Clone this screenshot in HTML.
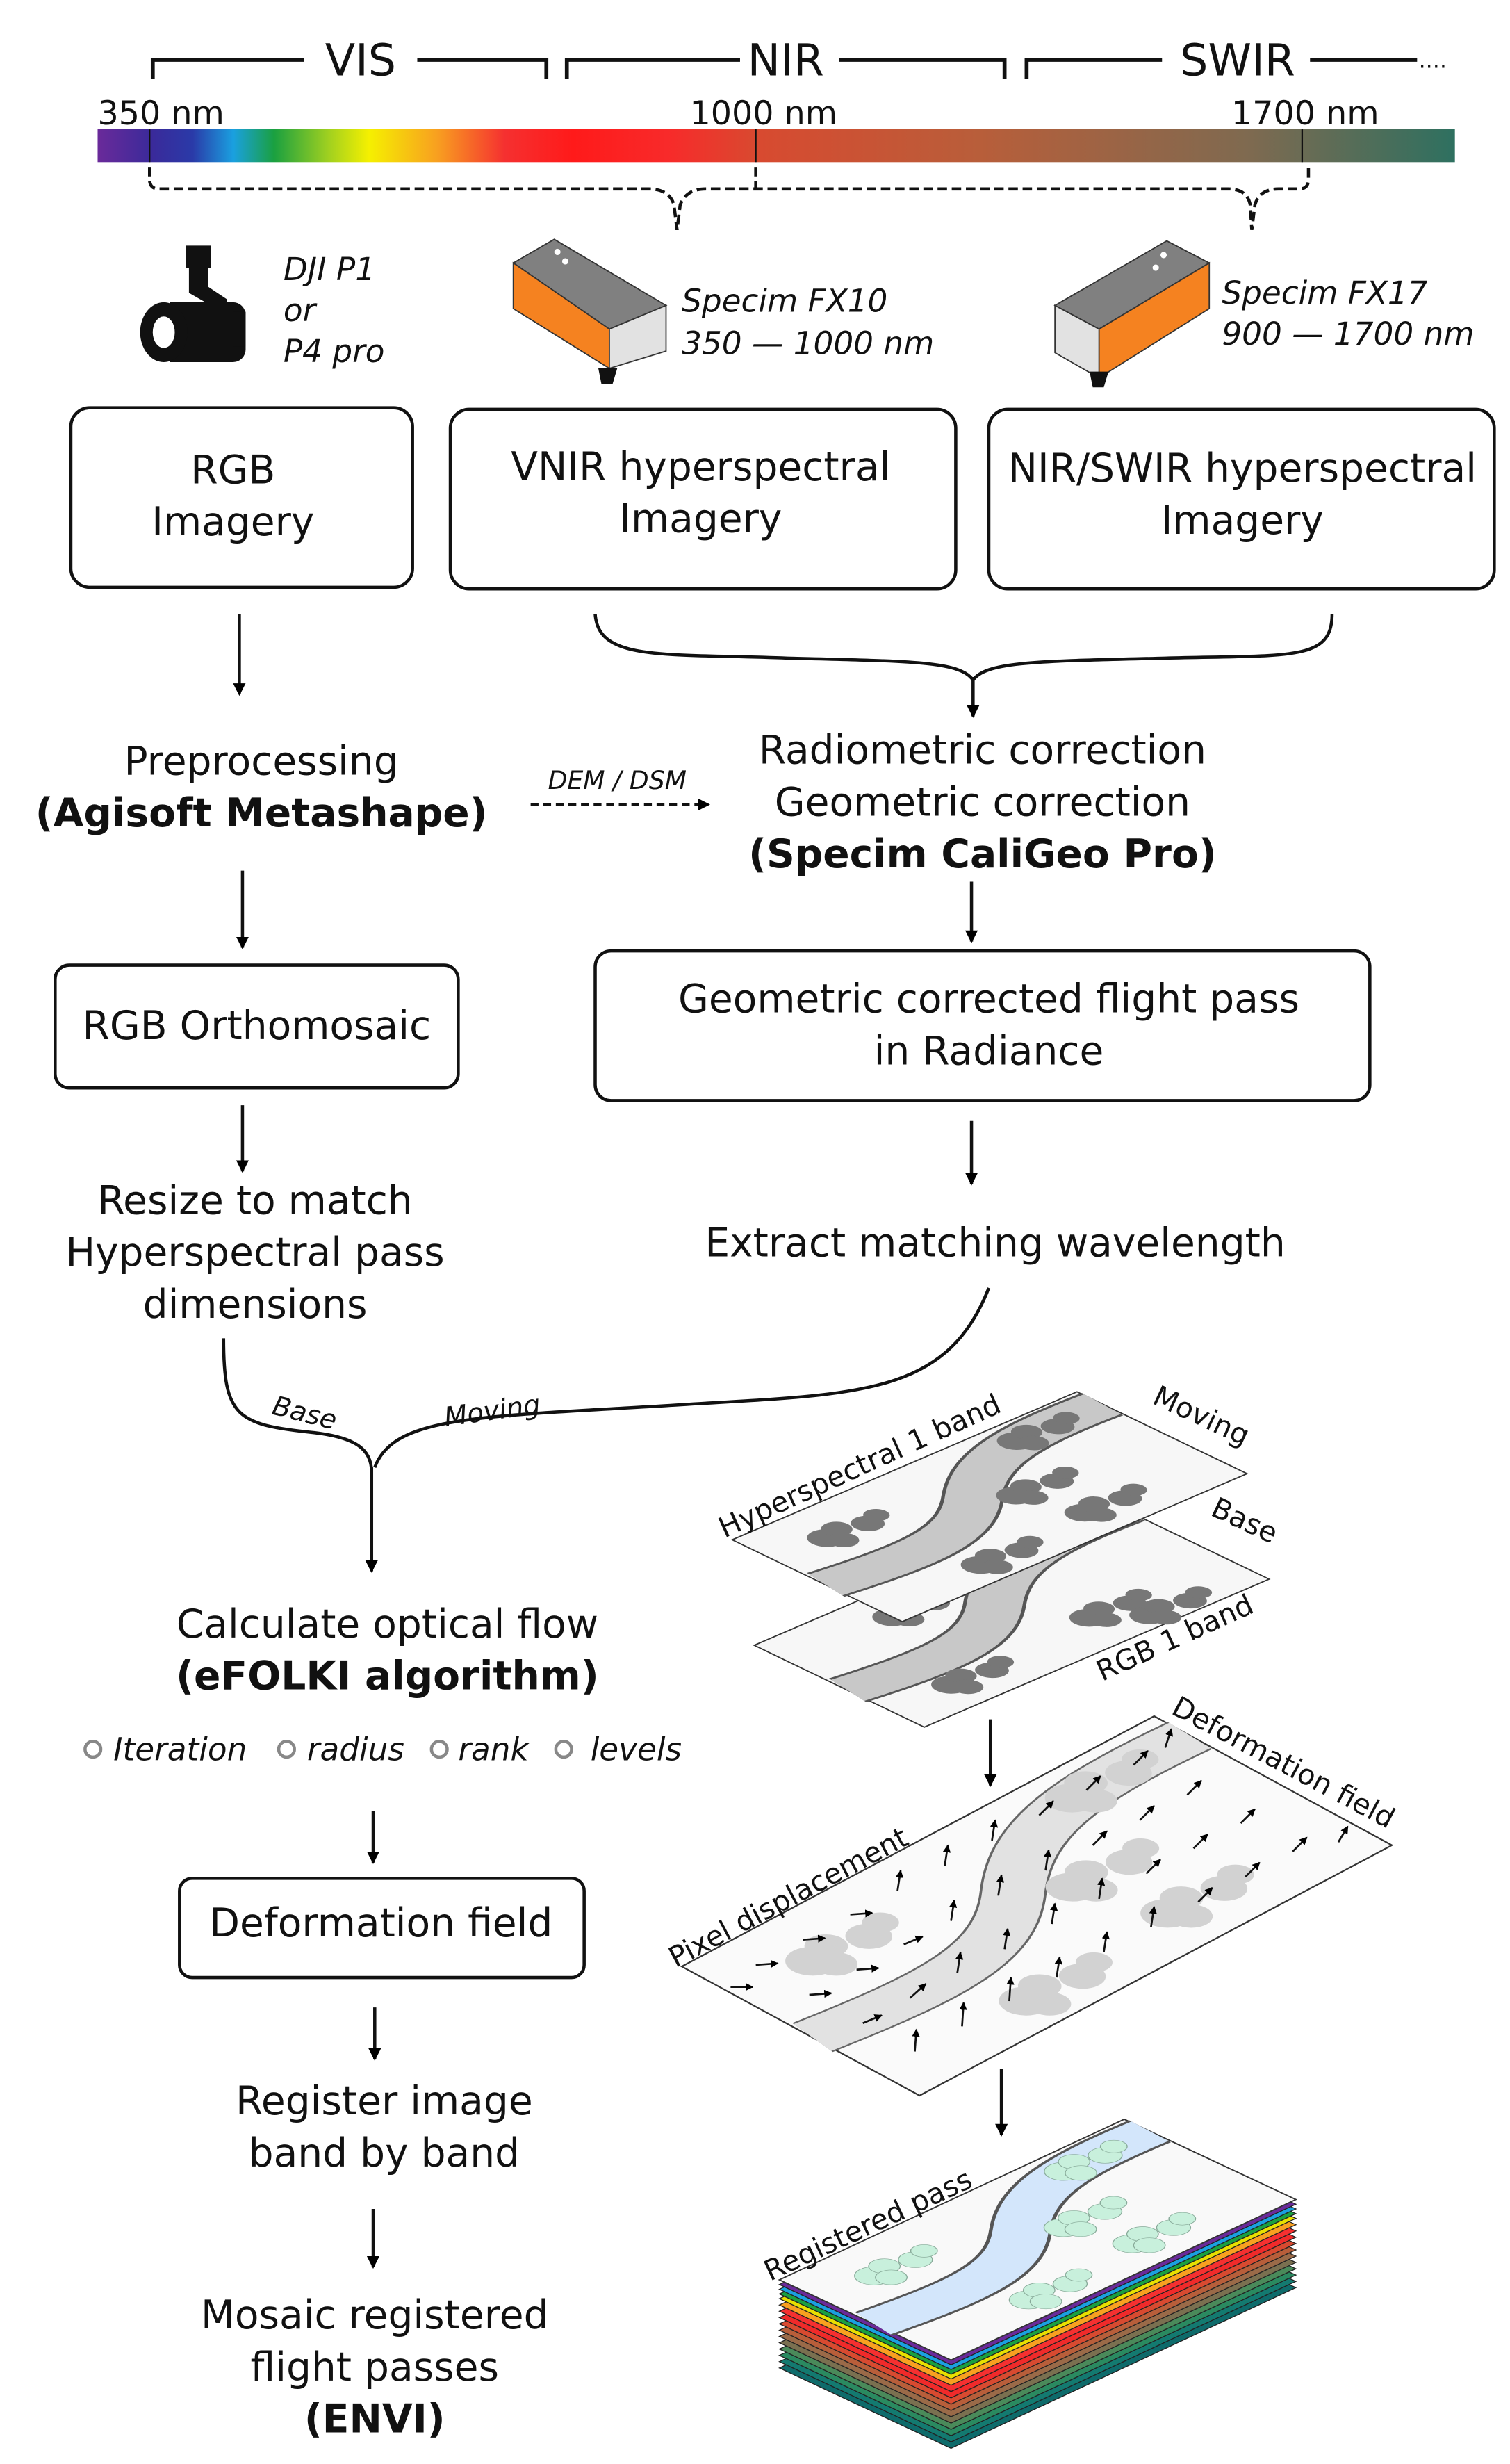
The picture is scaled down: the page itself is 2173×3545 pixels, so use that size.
<!DOCTYPE html>
<html><head><meta charset="utf-8"><style>
html,body{margin:0;padding:0;background:#fff;}
svg{display:block;}
text{font-family:"DejaVu Sans","Liberation Sans",sans-serif;fill:#111;}
.b{font-size:25px;text-anchor:middle;}
.bb{font-size:25px;text-anchor:middle;font-weight:bold;}
.it{font-size:20px;font-style:italic;}
.lbl{font-size:18px;}
</style></head><body>
<svg width="2173" height="3545" viewBox="0 0 959 1565" preserveAspectRatio="none" xmlns="http://www.w3.org/2000/svg">
<defs>
<linearGradient id="spec" x1="62" y1="0" x2="924" y2="0" gradientUnits="userSpaceOnUse">
<stop offset="0" stop-color="#6a2a9a"/><stop offset="0.04" stop-color="#3a2a9a"/><stop offset="0.07" stop-color="#2a3aa8"/>
<stop offset="0.1" stop-color="#1aa0e0"/><stop offset="0.13" stop-color="#1aa040"/><stop offset="0.17" stop-color="#a0d020"/>
<stop offset="0.2" stop-color="#f5f000"/><stop offset="0.25" stop-color="#f8a020"/><stop offset="0.3" stop-color="#f53030"/>
<stop offset="0.35" stop-color="#ff1a1a"/><stop offset="0.42" stop-color="#f82a2a"/><stop offset="0.487" stop-color="#d84a30"/>
<stop offset="0.65" stop-color="#b85e3a"/><stop offset="0.85" stop-color="#7e6a50"/><stop offset="1" stop-color="#2e7060"/>
</linearGradient>
<marker id="ah" markerWidth="8" markerHeight="8" refX="7" refY="4" orient="auto" markerUnits="userSpaceOnUse"><path d="M0,0 L8,4 L0,8 Z" fill="#000"/></marker>
<marker id="sh" markerWidth="5" markerHeight="5" refX="4.5" refY="2.5" orient="auto" markerUnits="userSpaceOnUse"><path d="M0,0 L5,2.5 L0,5 Z" fill="#000"/></marker>
<g id="trees1"><circle cx="0" cy="0" r="8"/><circle cx="9" cy="-3" r="6.5"/><circle cx="4" cy="6" r="6.5"/><circle cx="22" cy="2" r="7"/><circle cx="30" cy="-1" r="5.5"/></g>
<path id="riv" d="M0,55 C50,62 75,62 100,40 S150,12 200,15"/>
</defs>

<!-- top brackets -->
<g fill="none" stroke="#111" stroke-width="2.5">
<path d="M97,50 V38 H193 M265,38 H347 V50"/>
<path d="M360,50 V38 H470 M533,38 H638 V50"/>
<path d="M652,50 V38 H738 M832,38 H900"/>
</g>
<text x="229" y="48" style="font-size:28px;text-anchor:middle">VIS</text>
<text x="499" y="48" style="font-size:28px;text-anchor:middle">NIR</text>
<text x="786" y="48" style="font-size:28px;text-anchor:middle">SWIR</text>
<text x="901" y="43" style="font-size:14px">....</text>
<text x="62" y="79" style="font-size:21px">350 nm</text>
<text x="438" y="79" style="font-size:21px">1000 nm</text>
<text x="782" y="79" style="font-size:21px">1700 nm</text>
<rect x="62" y="82" width="862" height="21" fill="url(#spec)"/>
<g stroke="#111" stroke-width="1"><line x1="95" y1="82" x2="95" y2="103"/><line x1="480" y1="82" x2="480" y2="103"/><line x1="827" y1="82" x2="827" y2="103"/></g>
<g fill="none" stroke="#111" stroke-width="2" stroke-dasharray="6,3">
<path d="M95,106 V114 Q95,120 101,120 H412 Q425,120 428,130 L430,146 L432,130 Q436,120 448,120 H780 Q792,120 794,130 L795,146 L797,130 Q800,120 812,120 H825 Q831,120 831,114 V106"/>
<path d="M480,106 V120"/>
</g>

<!-- DJI camera -->
<g fill="#111">
<rect x="118" y="156" width="16" height="14"/>
<path d="M120,168 h12 v14 l12,8 v20 h-10 v-16 l-14,-8 z"/>
<path d="M108,192 h40 a8,8 0 0 1 8,8 v22 a8,8 0 0 1 -8,8 h-40 z"/>
<rect x="148" y="198" width="8" height="22"/>
<ellipse cx="104" cy="211" rx="15" ry="19"/>
</g>
<ellipse cx="104" cy="211" rx="7" ry="10" fill="#fff"/>
<text class="it" x="180" y="178">DJI P1</text>
<text class="it" x="180" y="204">or</text>
<text class="it" x="180" y="230">P4 pro</text>

<!-- FX10 -->
<g stroke="#333" stroke-width="0.8">
<polygon points="352,152 423,194 387,209 326,167" fill="#808080"/>
<polygon points="326,167 387,209 387,234 326,196" fill="#f58220"/>
<polygon points="387,209 423,194 423,223 387,234" fill="#e2e2e2"/>
</g>
<path d="M380,234 h12 l-3,10 h-7 z" fill="#111"/>
<circle cx="354" cy="160" r="2" fill="#fff"/><circle cx="359" cy="166" r="2" fill="#fff"/>
<text class="it" x="433" y="198">Specim FX10</text>
<text class="it" x="433" y="225">350 — 1000 nm</text>

<!-- FX17 -->
<g stroke="#333" stroke-width="0.8">
<polygon points="741,153 768,167 698,209 670,194" fill="#808080"/>
<polygon points="698,209 768,167 768,196 698,240" fill="#f58220"/>
<polygon points="670,194 698,209 698,240 670,224" fill="#e2e2e2"/>
</g>
<path d="M692,236 h12 l-3,10 h-7 z" fill="#111"/>
<circle cx="739" cy="162" r="2" fill="#fff"/><circle cx="734" cy="170" r="2" fill="#fff"/>
<text class="it" x="776" y="193">Specim FX17</text>
<text class="it" x="776" y="219">900 — 1700 nm</text>

<!-- boxes -->
<g fill="#fff" stroke="#111" stroke-width="2">
<rect x="45" y="259" width="217" height="114" rx="12"/>
<rect x="286" y="260" width="321" height="114" rx="12"/>
<rect x="628" y="260" width="321" height="114" rx="12"/>
<rect x="35" y="613" width="256" height="78" rx="9"/>
<rect x="378" y="604" width="492" height="95" rx="10"/>
<rect x="114" y="1193" width="257" height="63" rx="8"/>
</g>
<text class="b" x="148" y="307">RGB</text><text class="b" x="148" y="340">Imagery</text>
<text class="b" x="445" y="305">VNIR hyperspectral</text><text class="b" x="445" y="338">Imagery</text>
<text class="b" x="789" y="306">NIR/SWIR hyperspectral</text><text class="b" x="789" y="339">Imagery</text>

<!-- connectors -->
<g fill="none" stroke="#111" stroke-width="2">
<path d="M152,390 V441" marker-end="url(#ah)"/>
<path d="M378,390 C380,420 420,415 500,418 C580,420 610,420 618,432 C626,420 660,420 740,418 C820,416 846,420 846,390"/>
<path d="M618,430 V455" marker-end="url(#ah)"/>
<path d="M337,511 H450" stroke-dasharray="5,3" stroke-width="1.6" marker-end="url(#ah)"/>
<path d="M154,553 V602" marker-end="url(#ah)"/>
<path d="M617,560 V598" marker-end="url(#ah)"/>
<path d="M154,702 V744" marker-end="url(#ah)"/>
<path d="M617,712 V752" marker-end="url(#ah)"/>
<path d="M142,850 C142,900 150,905 200,910 C225,913 236,920 236,935"/>
<path d="M628,818 C600,890 540,885 420,893 C300,900 250,900 238,932"/>
<path d="M236,932 V998" marker-end="url(#ah)"/>
<path d="M237,1150 V1183" marker-end="url(#ah)"/>
<path d="M238,1275 V1308" marker-end="url(#ah)"/>
<path d="M237,1403 V1440" marker-end="url(#ah)"/>
<path d="M629,1092 V1134" marker-end="url(#ah)"/>
<path d="M636,1314 V1356" marker-end="url(#ah)"/>
</g>

<text class="b" x="166" y="492">Preprocessing</text>
<text class="bb" x="166" y="525">(Agisoft Metashape)</text>
<text x="392" y="501" style="font-size:16px;font-style:italic;text-anchor:middle">DEM / DSM</text>
<text class="b" x="624" y="485">Radiometric correction</text>
<text class="b" x="624" y="518">Geometric correction</text>
<text class="bb" x="624" y="551">(Specim CaliGeo Pro)</text>
<text class="b" x="163" y="660">RGB Orthomosaic</text>
<text class="b" x="628" y="643">Geometric corrected flight pass</text>
<text class="b" x="628" y="676">in Radiance</text>
<text class="b" x="162" y="771">Resize to match</text>
<text class="b" x="162" y="804">Hyperspectral pass</text>
<text class="b" x="162" y="837">dimensions</text>
<text class="b" x="632" y="798">Extract matching wavelength</text>
<text transform="translate(172,898) rotate(14)" style="font-size:17px;font-style:italic">Base</text>
<text transform="translate(283,906) rotate(-8)" style="font-size:17px;font-style:italic">Moving</text>
<text class="b" x="246" y="1040">Calculate optical flow</text>
<text class="bb" x="246" y="1073">(eFOLKI algorithm)</text>
<g fill="none" stroke="#888" stroke-width="2"><circle cx="59" cy="1111" r="5"/><circle cx="182" cy="1111" r="5"/><circle cx="279" cy="1111" r="5"/><circle cx="358" cy="1111" r="5"/></g>
<text class="it" x="72" y="1118">Iteration</text>
<text class="it" x="195" y="1118">radius</text>
<text class="it" x="291" y="1118">rank</text>
<text class="it" x="375" y="1118">levels</text>
<text class="b" x="242" y="1230">Deformation field</text>
<text class="b" x="244" y="1343">Register image</text>
<text class="b" x="244" y="1376">band by band</text>
<text class="b" x="238" y="1479">Mosaic registered</text>
<text class="b" x="238" y="1512">flight passes</text>
<text class="bb" x="238" y="1545">(ENVI)</text>

<!-- plane 2 (base) -->
<g transform="matrix(1.095,-0.47,1.08,0.52,479,1045)">
<polygon points="0,0 200,0 200,100 0,100" fill="#f7f7f7" stroke="#333" stroke-width="0.9"/>
<use href="#riv" fill="none" stroke="#555" stroke-width="26"/>
<use href="#riv" fill="none" stroke="#c8c8c8" stroke-width="23"/>
<g fill="#777"><use href="#trees1" x="35" y="80"/><use href="#trees1" x="120" y="75"/><use href="#trees1" x="140" y="90"/><use href="#trees1" x="60" y="20"/></g>
</g>
<!-- plane 1 (moving) -->
<g transform="matrix(1.095,-0.47,1.08,0.52,465,978)">
<polygon points="0,0 200,0 200,100 0,100" fill="#f7f7f7" stroke="#333" stroke-width="0.9"/>
<use href="#riv" fill="none" stroke="#555" stroke-width="26"/>
<use href="#riv" fill="none" stroke="#c8c8c8" stroke-width="23"/>
<g fill="#777"><use href="#trees1" x="30" y="25"/><use href="#trees1" x="60" y="85"/><use href="#trees1" x="125" y="80"/><use href="#trees1" x="150" y="15"/><use href="#trees1" x="115" y="50"/></g>
</g>
<text transform="translate(460,977) rotate(-24.5)" class="lbl">Hyperspectral 1 band</text>
<text transform="translate(731,891) rotate(25)" class="lbl">Moving</text>
<text transform="translate(768,962) rotate(25)" class="lbl">Base</text>
<text transform="translate(700,1068) rotate(-24.5)" class="lbl">RGB 1 band</text>

<!-- plane 3 deformation -->
<g transform="matrix(1.5,-0.795,1.51,0.82,433,1249)">
<polygon points="0,0 200,0 200,100 0,100" fill="#fafafa" stroke="#333" stroke-width="0.7"/>
<use href="#riv" fill="none" stroke="#666" stroke-width="20"/>
<use href="#riv" fill="none" stroke="#e2e2e2" stroke-width="18.5"/>
<g fill="#d2d2d2"><use href="#trees1" x="30" y="25"/><use href="#trees1" x="60" y="85"/><use href="#trees1" x="125" y="80"/><use href="#trees1" x="150" y="15"/><use href="#trees1" x="115" y="50"/></g>
</g>
<g stroke="#111" stroke-width="1.2" marker-end="url(#sh)">
<line x1="480" y1="1248" x2="494" y2="1247"/><line x1="514" y1="1267" x2="528" y2="1266"/><line x1="548" y1="1285" x2="560" y2="1280"/><line x1="581" y1="1303" x2="582" y2="1289"/>
<line x1="510" y1="1232" x2="524" y2="1231"/><line x1="544" y1="1251" x2="558" y2="1250"/><line x1="578" y1="1269" x2="588" y2="1260"/><line x1="611" y1="1287" x2="612" y2="1272"/>
<line x1="540" y1="1216" x2="554" y2="1215"/><line x1="574" y1="1235" x2="586" y2="1230"/><line x1="608" y1="1253" x2="610" y2="1240"/><line x1="641" y1="1271" x2="642" y2="1256"/>
<line x1="570" y1="1201" x2="572" y2="1188"/><line x1="604" y1="1220" x2="606" y2="1207"/><line x1="638" y1="1238" x2="640" y2="1225"/><line x1="671" y1="1256" x2="673" y2="1243"/>
<line x1="600" y1="1185" x2="602" y2="1172"/><line x1="634" y1="1204" x2="636" y2="1191"/><line x1="668" y1="1222" x2="670" y2="1209"/><line x1="701" y1="1240" x2="703" y2="1227"/>
<line x1="630" y1="1169" x2="632" y2="1156"/><line x1="664" y1="1188" x2="666" y2="1175"/><line x1="698" y1="1206" x2="700" y2="1193"/><line x1="731" y1="1224" x2="733" y2="1211"/>
<line x1="660" y1="1153" x2="669" y2="1144"/><line x1="694" y1="1172" x2="703" y2="1163"/><line x1="728" y1="1190" x2="737" y2="1181"/><line x1="761" y1="1208" x2="770" y2="1199"/>
<line x1="690" y1="1137" x2="699" y2="1128"/><line x1="724" y1="1156" x2="733" y2="1147"/><line x1="758" y1="1174" x2="767" y2="1165"/><line x1="791" y1="1192" x2="800" y2="1183"/>
<line x1="720" y1="1121" x2="729" y2="1112"/><line x1="754" y1="1140" x2="763" y2="1131"/><line x1="788" y1="1158" x2="797" y2="1149"/><line x1="821" y1="1176" x2="830" y2="1167"/>
<line x1="464" y1="1262" x2="478" y2="1262"/><line x1="740" y1="1110" x2="744" y2="1098"/><line x1="850" y1="1170" x2="856" y2="1160"/>
</g>
<text transform="translate(429,1250) rotate(-27.9)" class="lbl">Pixel displacement</text>
<text transform="translate(743,1088) rotate(28)" class="lbl">Deformation field</text>

<!-- registered stack -->
<g stroke="#222" stroke-width="0.6">
<polygon transform="translate(0,56)" points="495,1448 714,1346 823,1397 604,1499" fill="#0e6b6b"/>
<polygon transform="translate(0,52)" points="495,1448 714,1346 823,1397 604,1499" fill="#137a70"/>
<polygon transform="translate(0,48)" points="495,1448 714,1346 823,1397 604,1499" fill="#2a8a60"/>
<polygon transform="translate(0,44)" points="495,1448 714,1346 823,1397 604,1499" fill="#4a8a5a"/>
<polygon transform="translate(0,40)" points="495,1448 714,1346 823,1397 604,1499" fill="#7a7050"/>
<polygon transform="translate(0,36)" points="495,1448 714,1346 823,1397 604,1499" fill="#9a6a48"/>
<polygon transform="translate(0,32)" points="495,1448 714,1346 823,1397 604,1499" fill="#b85e3a"/>
<polygon transform="translate(0,28)" points="495,1448 714,1346 823,1397 604,1499" fill="#d84a30"/>
<polygon transform="translate(0,24)" points="495,1448 714,1346 823,1397 604,1499" fill="#f02a2a"/>
<polygon transform="translate(0,20)" points="495,1448 714,1346 823,1397 604,1499" fill="#f53030"/>
<polygon transform="translate(0,16)" points="495,1448 714,1346 823,1397 604,1499" fill="#f8a020"/>
<polygon transform="translate(0,12)" points="495,1448 714,1346 823,1397 604,1499" fill="#e8e000"/>
<polygon transform="translate(0,9)" points="495,1448 714,1346 823,1397 604,1499" fill="#1aa040"/>
<polygon transform="translate(0,6)" points="495,1448 714,1346 823,1397 604,1499" fill="#1aa0e0"/>
<polygon transform="translate(0,3)" points="495,1448 714,1346 823,1397 604,1499" fill="#6a2a9a"/>
</g>
<g transform="matrix(1.095,-0.51,1.09,0.51,495,1448)">
<polygon points="0,0 200,0 200,100 0,100" fill="#f9f9f9" stroke="#333" stroke-width="0.9"/>
<use href="#riv" fill="none" stroke="#555" stroke-width="26"/>
<use href="#riv" fill="none" stroke="#d3e6fb" stroke-width="23"/>
<g fill="#c8f0dc" stroke="#8a9" stroke-width="0.4"><use href="#trees1" x="30" y="25"/><use href="#trees1" x="60" y="85"/><use href="#trees1" x="125" y="80"/><use href="#trees1" x="150" y="15"/><use href="#trees1" x="115" y="50"/></g>
</g>
<text transform="translate(489,1449) rotate(-25)" class="lbl">Registered pass</text>
</svg>
</body></html>
